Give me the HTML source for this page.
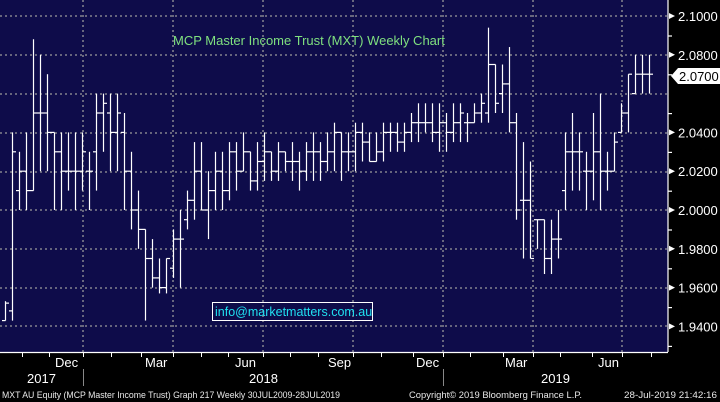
<!DOCTYPE html>
<html><head><style>
body{margin:0;background:#000;}
svg{display:block;font-family:"Liberation Sans",Arial,sans-serif;}
</style></head><body>
<svg width="720" height="402" xmlns="http://www.w3.org/2000/svg">
<rect x="0" y="0" width="720" height="402" fill="#000"/>
<rect x="0" y="0" width="668" height="352" fill="#0e0c4a"/>
<g stroke="#9a9a9a" stroke-width="1.3" stroke-dasharray="2,3">
<line x1="0" x2="668" y1="16" y2="16"/><line x1="0" x2="668" y1="55" y2="55"/>
<line x1="0" x2="668" y1="94" y2="94"/><line x1="0" x2="668" y1="133" y2="133"/>
<line x1="0" x2="668" y1="172" y2="172"/><line x1="0" x2="668" y1="210" y2="210"/>
<line x1="0" x2="668" y1="249" y2="249"/><line x1="0" x2="668" y1="288" y2="288"/>
<line x1="0" x2="668" y1="326" y2="326"/>
<line x1="83" x2="83" y1="0" y2="352"/><line x1="173" x2="173" y1="0" y2="352"/>
<line x1="263" x2="263" y1="0" y2="352"/><line x1="353" x2="353" y1="0" y2="352"/>
<line x1="443" x2="443" y1="0" y2="352"/><line x1="533" x2="533" y1="0" y2="352"/>
<line x1="622" x2="622" y1="0" y2="352"/>
</g>
<g id="bars" stroke="#fff" stroke-width="1.2" fill="none"></g>
<text x="173" y="45" fill="#7fe07f" font-size="13">MCP Master Income Trust (MXT) Weekly Chart</text>
<rect x="212.5" y="302.5" width="160" height="18" fill="none" stroke="#fff" stroke-width="1"/>
<text x="215" y="316" fill="#20e0f0" font-size="12.5">info@marketmatters.com.au</text>
<line x1="668" x2="668" y1="0" y2="352" stroke="#fff" stroke-width="1.2"/>
<line x1="0" x2="668" y1="352.5" y2="352.5" stroke="#fff" stroke-width="1.2"/>
<g id="yax" fill="#fff" font-size="13"></g>
<polygon points="671,76 678,68 720,68 720,84 678,84" fill="#fff"/>
<text x="679" y="81" fill="#000" font-size="13">2.0700</text>
<g fill="#fff" font-size="13">
<text x="55" y="367">Dec</text><text x="145" y="367">Mar</text><text x="235" y="367">Jun</text>
<text x="328" y="367">Sep</text><text x="416" y="367">Dec</text><text x="505" y="367">Mar</text><text x="598" y="367">Jun</text>
<text x="27" y="383">2017</text><text x="249" y="383">2018</text><text x="541" y="383">2019</text>
</g>
<line x1="83.5" x2="83.5" y1="369" y2="386" stroke="#888"/>
<line x1="443.5" x2="443.5" y1="369" y2="386" stroke="#888"/>
<g id="xt" stroke="#fff"></g>
<g fill="#e8e8e8" font-size="9.5">
<text x="2" y="398" textLength="338" lengthAdjust="spacingAndGlyphs">MXT AU Equity (MCP Master Income Trust) Graph 217  Weekly 30JUL2009-28JUL2019</text>
<text x="409" y="398" textLength="173" lengthAdjust="spacingAndGlyphs">Copyright© 2019 Bloomberg Finance L.P.</text>
<text x="624" y="398" textLength="93" lengthAdjust="spacingAndGlyphs">28-Jul-2019 21:42:16</text>
</g>
</svg>
<script>
var d=[[1.953,1.943,1.943,1.952],[2.040,1.943,1.948,2.030],[2.030,2.000,2.010,2.020],[2.040,2.000,2.020,2.010],[2.088,2.010,2.010,2.050],[2.080,2.020,2.050,2.050],[2.070,2.020,2.050,2.040],[2.040,2.000,2.040,2.030],[2.040,2.000,2.030,2.020],[2.040,2.010,2.020,2.020],[2.040,2.000,2.020,2.020],[2.040,2.010,2.020,2.030],[2.030,2.000,2.020,2.020],[2.060,2.010,2.030,2.050],[2.060,2.030,2.050,2.055],[2.060,2.020,2.050,2.040],[2.060,2.020,2.040,2.050],[2.050,2.000,2.040,2.020],[2.030,1.990,2.020,2.000],[2.010,1.980,2.000,1.990],[1.990,1.943,1.990,1.975],[1.985,1.960,1.975,1.965],[1.975,1.957,1.965,1.960],[1.975,1.957,1.960,1.975],[1.990,1.965,1.970,1.985],[2.000,1.960,1.985,1.985],[2.010,1.990,1.995,2.005],[2.035,1.995,2.005,2.020],[2.035,2.000,2.020,2.000],[2.020,1.985,2.000,2.010],[2.030,2.000,2.010,2.020],[2.030,2.000,2.020,2.010],[2.035,2.005,2.010,2.030],[2.035,2.010,2.030,2.020],[2.040,2.020,2.020,2.030],[2.030,2.010,2.030,2.015],[2.035,2.010,2.015,2.025],[2.040,2.015,2.025,2.030],[2.030,2.015,2.030,2.020],[2.035,2.015,2.020,2.030],[2.030,2.020,2.030,2.025],[2.035,2.015,2.025,2.025],[2.030,2.010,2.025,2.020],[2.035,2.015,2.020,2.030],[2.040,2.015,2.030,2.030],[2.035,2.015,2.030,2.025],[2.040,2.020,2.025,2.030],[2.045,2.020,2.030,2.040],[2.040,2.015,2.040,2.030],[2.040,2.020,2.030,2.030],[2.045,2.020,2.030,2.040],[2.045,2.025,2.040,2.035],[2.040,2.025,2.035,2.025],[2.040,2.025,2.025,2.030],[2.045,2.025,2.030,2.040],[2.045,2.030,2.040,2.040],[2.045,2.030,2.040,2.035],[2.045,2.030,2.035,2.040],[2.050,2.035,2.040,2.045],[2.055,2.035,2.045,2.045],[2.055,2.040,2.045,2.045],[2.055,2.035,2.045,2.040],[2.055,2.030,2.040,2.045],[2.050,2.030,2.045,2.040],[2.055,2.035,2.040,2.045],[2.055,2.035,2.045,2.050],[2.050,2.035,2.045,2.045],[2.055,2.045,2.045,2.050],[2.060,2.045,2.050,2.055],[2.094,2.045,2.050,2.075],[2.075,2.050,2.075,2.055],[2.075,2.050,2.060,2.065],[2.084,2.040,2.065,2.045],[2.050,1.995,2.045,2.000],[2.035,1.975,2.005,2.005],[2.025,1.975,2.005,1.975],[1.995,1.980,1.995,1.995],[1.995,1.967,1.995,1.975],[1.995,1.967,1.975,1.985],[2.000,1.975,1.985,1.985],[2.040,2.000,2.010,2.030],[2.050,2.010,2.030,2.030],[2.040,2.010,2.030,2.030],[2.030,2.000,2.020,2.020],[2.050,2.005,2.020,2.030],[2.060,2.000,2.030,2.020],[2.030,2.010,2.020,2.020],[2.040,2.020,2.020,2.035],[2.055,2.040,2.040,2.050],[2.070,2.040,2.050,2.070],[2.080,2.060,2.060,2.070],[2.080,2.060,2.070,2.070],[2.080,2.060,2.070,2.070]];
function Y(v){return 16+(2.1-v)*1940;}
var s='';for(var i=0;i<d.length;i++){var x=Math.round(5+i*7)+0.5,b=d[i];
s+='<line x1="'+x+'" x2="'+x+'" y1="'+Y(b[0])+'" y2="'+Y(b[1])+'"/>';
s+='<line x1="'+(x-3.5)+'" x2="'+x+'" y1="'+Y(b[2])+'" y2="'+Y(b[2])+'"/>';
s+='<line x1="'+x+'" x2="'+(x+3.5)+'" y1="'+Y(b[3])+'" y2="'+Y(b[3])+'"/>';}
document.getElementById('bars').innerHTML=s;
var a='',L=['2.1000','2.0800','2.0600','2.0400','2.0200','2.0000','1.9800','1.9600','1.9400'];
for(var k=0;k<9;k++){var y=Y(2.1-k*0.02);
if(k!=2)a+='<polygon points="669,'+(y-3)+' 675,'+y+' 669,'+(y+3)+'"/>';
if(k!=2)a+='<text x="678" y="'+(y+5)+'">'+L[k]+'</text>';
a+='<rect x="668" y="'+(y+19.4)+'" width="4" height="1.2"/>';}
a+='<rect x="668" y="'+Y(2.1+0.01)+'" width="4" height="1.2"/>';
document.getElementById('yax').innerHTML=a;
var t='',xs=[22,49,83,111,141,173,201,228,263,290,318,353,381,413,443,470,503,533,560,592,622,651];
for(var j=0;j<xs.length;j++)t+='<line x1="'+(xs[j]+0.5)+'" x2="'+(xs[j]+0.5)+'" y1="353" y2="357"/>';
document.getElementById('xt').innerHTML=t;
</script>
</body></html>
